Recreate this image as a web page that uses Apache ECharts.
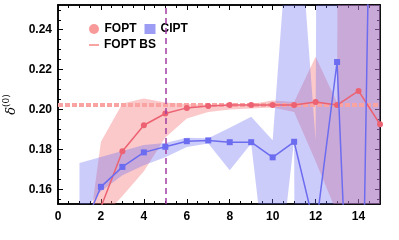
<!DOCTYPE html>
<html>
<head>
<meta charset="utf-8">
<script src="https://cdn.jsdelivr.net/npm/echarts@6/dist/echarts.min.js"></script>
<style>html,body{margin:0;padding:0;background:#fff}#c{width:399px;height:240px}</style>
</head>
<body>
<div id="c"></div>
<script>
// ---- data ----
const xs = [1,2,3,4,5,6,7,8,9,10,11,12,13,14,15];
const fopt = [0.100,0.151,0.1791,0.1921,0.1980,0.2008,0.2018,0.2022,0.2022,0.2022,0.2022,0.2038,0.2022,0.2093,0.1926];
const cipt = [0.136,0.1612,0.1712,0.1785,0.1813,0.1841,0.1845,0.1836,0.1836,0.1760,0.1838,0.139,0.2238,-0.03,0.62];
const foptHigh = [0.104,0.1838,0.2030,0.2055,0.2035,0.2028,0.2025,0.2025,0.2028,0.2045,0.2038,0.2264,0.2035,3,3];
const foptLow  = [0.050,0.145,0.1566,0.169,0.186,0.1955,0.1988,0.2000,0.2005,0.2010,0.1988,0.174,0.148,-3,-3];
const ciptHigh = [0.1732,0.1762,0.1792,0.1822,0.1832,0.1858,0.1856,0.1909,0.1963,0.1846,0.33,0.1846,3,3,3];
const ciptLow  = [0.147,0.159,0.167,0.172,0.1760,0.1812,0.1830,0.1695,0.1830,0.09,0.1846,-3,-3,-3,-3];
const bsX = [0,15];
const bsY = [0.2022,0.2022];
const markX = 5;
const xTicks = [0,2,4,6,8,10,12,14];
const xMinor = [];
for (let v = 0.5; v < 15; v += 0.5) if (v % 2 !== 0) xMinor.push(v);
const yTicks = [0.16,0.18,0.20,0.22,0.24];
const yMinor = [];
for (let i = 31; i <= 50; i++) { const v = +(i*0.005).toFixed(3); if (Math.abs(Math.round(v*1000) % 20) !== 0 && v>0.1526 && v<0.2524) yMinor.push(v); }
const yMin = 0.1526, yMax = 0.2524;

const pair = (a, b) => a.map((v, i) => [v, b[i]]);

const font = 'Liberation Sans, Arial, sans-serif';
const lab = {color:'#000', fontWeight:'bold', fontSize:12, fontFamily:font};

function xAx(pos, vals, len, labels) {
  return {type:'value', min:0, max:15, position:pos,
    axisLine:{show:true, onZero:false, lineStyle:{color:'#000', width:1.5}},
    axisTick:{show:true, inside:true, length:len, customValues:vals, lineStyle:{color:'#000', width:1}},
    axisLabel:labels ? Object.assign({show:true, customValues:xTicks, margin:7}, lab) : {show:false},
    splitLine:{show:false}};
}
function yAx(pos, vals, len, labels) {
  const o = {type:'value', min:yMin, max:yMax, position:pos,
    axisLine:{show:true, onZero:false, lineStyle:{color:'#000', width:1.5}},
    axisTick:{show:true, inside:true, length:len, customValues:vals, lineStyle:{color:'#000', width:1}},
    axisLabel:labels ? Object.assign({show:true, customValues:yTicks, margin:6, formatter:v=>v.toFixed(2)}, lab) : {show:false},
    splitLine:{show:false}};
  if (labels) {
    o.name = '{d|δ}{s|(0)}';
    o.nameLocation = 'middle';
    o.nameRotate = 90;
    o.nameGap = 26;
    o.nameTextStyle = {rich:{
      d:{fontFamily:'DejaVu Serif', fontStyle:'italic', fontSize:13, color:'#000'},
      s:{fontFamily:'DejaVu Serif', fontSize:9, color:'#000', padding:[0,0,9,0]}
    }};
  }
  return o;
}

function bandSeries(name, hi, lo, color, z) {
  return {
    name:name, type:'custom', clip:true, silent:true, z:z,
    data: xs.map((x, i) => [x, lo[i], hi[i]]),
    encode:{x:0, y:[1,2]},
    renderItem: function (params, api) {
      if (params.dataIndex !== 0) return null;
      const pts = [];
      for (let i = 0; i < xs.length; i++) pts.push(api.coord([xs[i], hi[i]]));
      for (let i = xs.length - 1; i >= 0; i--) pts.push(api.coord([xs[i], lo[i]]));
      return {type:'polygon', shape:{points:pts}, style:{fill:color, stroke:null}};
    }
  };
}

const chart = echarts.init(document.getElementById('c'), null, {renderer:'canvas'});
chart.setOption({
  animation:false,
  backgroundColor:'#fff',
  grid:{left:58, right:19, top:5, bottom:36, containLabel:false, outerBoundsMode:'none'},
  xAxis:[xAx('bottom', xTicks, 5, true), xAx('bottom', xMinor, 3, false), xAx('top', xTicks, 5, false), xAx('top', xMinor, 3, false)],
  yAxis:[yAx('left', yTicks, 5, true), yAx('left', yMinor, 3, false), yAx('right', yTicks, 5, false), yAx('right', yMinor, 3, false)],
  legend:[
    {left:84, top:18, itemGap:8, itemWidth:11, itemHeight:10, textStyle:lab,
     data:[{name:'FOPT', icon:'circle', itemStyle:{color:'#f99a9a'}}, {name:'CIPT', icon:'rect', itemStyle:{color:'#9c9cf5'}}]},
    {left:84, top:34, itemWidth:10, itemHeight:2, textStyle:lab,
     data:[{name:'FOPT BS', icon:'rect', itemStyle:{color:'#f9a3a3'}}]}
  ],
  series:[
    bandSeries('pinkBand', foptHigh, foptLow, 'rgba(245,120,120,0.40)', 1),
    bandSeries('blueBand', ciptHigh, ciptLow, 'rgba(110,110,240,0.35)', 2),
    {name:'FOPT BS', type:'line', data:pair(bsX, bsY), symbol:'none', lineStyle:{color:'#f9a3a3', width:4, type:[5,2]}, itemStyle:{color:'#f9a3a3'}, z:3},
    {name:'FOPT', type:'line', data:pair(xs, fopt), symbol:'circle', symbolSize:6, lineStyle:{color:'#ec6272', width:1.5}, itemStyle:{color:'#ec6272'}, z:4},
    {name:'CIPT', type:'line', data:pair(xs, cipt), symbol:'rect', symbolSize:6, lineStyle:{color:'#6c6cf0', width:1.5}, itemStyle:{color:'#6c6cf0'}, z:5,
     markLine:{silent:true, symbol:'none', label:{show:false}, lineStyle:{color:'#a33ca3', width:1.5, type:[6,4]}, data:[{xAxis:markX}]}}
  ]
});
</script>
</body>
</html>
